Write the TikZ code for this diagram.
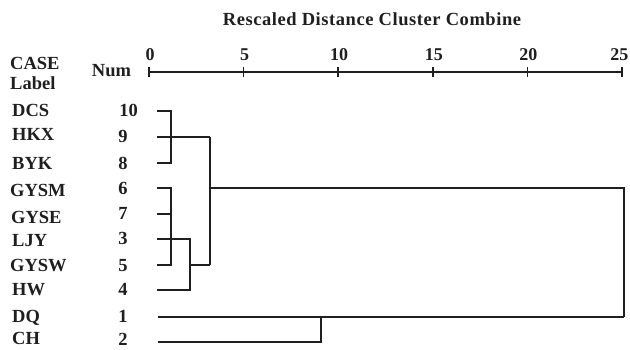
\documentclass[tikz,border=0pt]{standalone}
\usepackage{fontspec}
\setmainfont{Liberation Serif}
\newfontfamily\titlefont{Liberation Serif}[LetterSpace=3]
\begin{document}
\begin{tikzpicture}[x=1pt,y=-1pt,
  txt/.style={inner sep=0pt,font=\fontsize{18.5}{20}\bfseries\selectfont,text=black!88},
  lbl/.style={txt,anchor=west},
  numl/.style={txt},
  axnum/.style={txt,font=\fontsize{18}{20}\bfseries\selectfont},
  tree/.style={draw=black!88,line width=1.8pt,line join=miter},
  axisline/.style={draw=black!88,line width=1.6pt}]
\useasboundingbox (0,0) rectangle (630,349);
% title
\node[txt,font=\titlefont\fontsize{18.5}{20}\bfseries\selectfont] (title) at (372,19) {Rescaled Distance Cluster Combine};
% headers
\node[lbl] (case) at (10,63.5) {CASE};
\node[lbl] (label) at (10,83) {Label};
\node[txt] (num) at (111.5,71) {Num};
% axis
\foreach \v/\n in {0/a0,5/a5,10/a10,15/a15,20/a20}{
  \node[axnum] (l\n) at ({150+18.92*\v},54.5) {\v};
}
\node[axnum,anchor=east] (la25) at (628.5,54.5) {25};
\foreach \v/\n in {0/a0,5/a5,10/a10,15/a15,20/a20,25/a25}{
  \coordinate (t\n) at ({149+18.92*\v},72);
  \draw[axisline] ({149+18.92*\v},67) -- ({149+18.92*\v},77);
}
\draw[axisline] (ta0) -- (ta25);
% case labels
\node[lbl] (nDCS) at (12,110.5) {DCS};
\node[lbl] (nHKX) at (12,134.5) {HKX};
\node[lbl] (nBYK) at (12,163) {BYK};
\node[lbl] (nGYSM) at (10,190) {GYSM};
\node[lbl] (nGYSE) at (11,217) {GYSE};
\node[lbl] (nLJY) at (12,241) {LJY};
\node[lbl] (nGYSW) at (10,266) {GYSW};
\node[lbl] (nHW) at (12,290) {HW};
\node[lbl] (nDQ) at (12,318) {DQ};
\node[lbl] (nCH) at (12,338.5) {CH};
% numbers
\node[numl] (k10) at (128.5,110.5) {10};
\node[numl] (k9) at (123,136) {9};
\node[numl] (k8) at (123,163) {8};
\node[numl] (k6) at (123,188.5) {6};
\node[numl] (k7) at (123,213) {7};
\node[numl] (k3) at (123,238) {3};
\node[numl] (k5) at (123,266) {5};
\node[numl] (k4) at (123,289.5) {4};
\node[numl] (k1) at (123,316.5) {1};
\node[numl] (k2) at (123,339) {2};
% leaf starts
\coordinate (s10) at (157,111);
\coordinate (s9) at (157,137);
\coordinate (s8) at (157,163);
\coordinate (s6) at (157,188);
\coordinate (s7) at (157,214);
\coordinate (s3) at (157,239);
\coordinate (s5) at (157,265);
\coordinate (s4) at (157,290);
\coordinate (s1) at (158,317);
\coordinate (s2) at (158,342);
% merge points
\coordinate (mA) at (171,137);
\coordinate (mB) at (171,214);
\coordinate (mC) at (190,265);
\coordinate (mD) at (210,188);
\coordinate (mE) at (321,317);
\coordinate (mF) at (624,188);
% tree
\draw[tree] (s10) -| (mA |- s8) -- (s8);
\draw[tree] (s9) -- (mD |- s9);
\draw[tree] (s6) -| (mB |- s5) -- (s5);
\draw[tree] (s7) -- (mB);
\draw[tree] (s3) -| (mC |- s4) -- (s4);
\draw[tree] (mC) -- (mD |- mC);
\draw[tree] (mD |- s9) -- (mD |- mC);
\draw[tree] (mD) -- (mF) -- (mF |- s1);
\draw[tree] (s1) -- (mF |- s1);
\draw[tree] (s2) -| (mE);
\end{tikzpicture}
\end{document}
